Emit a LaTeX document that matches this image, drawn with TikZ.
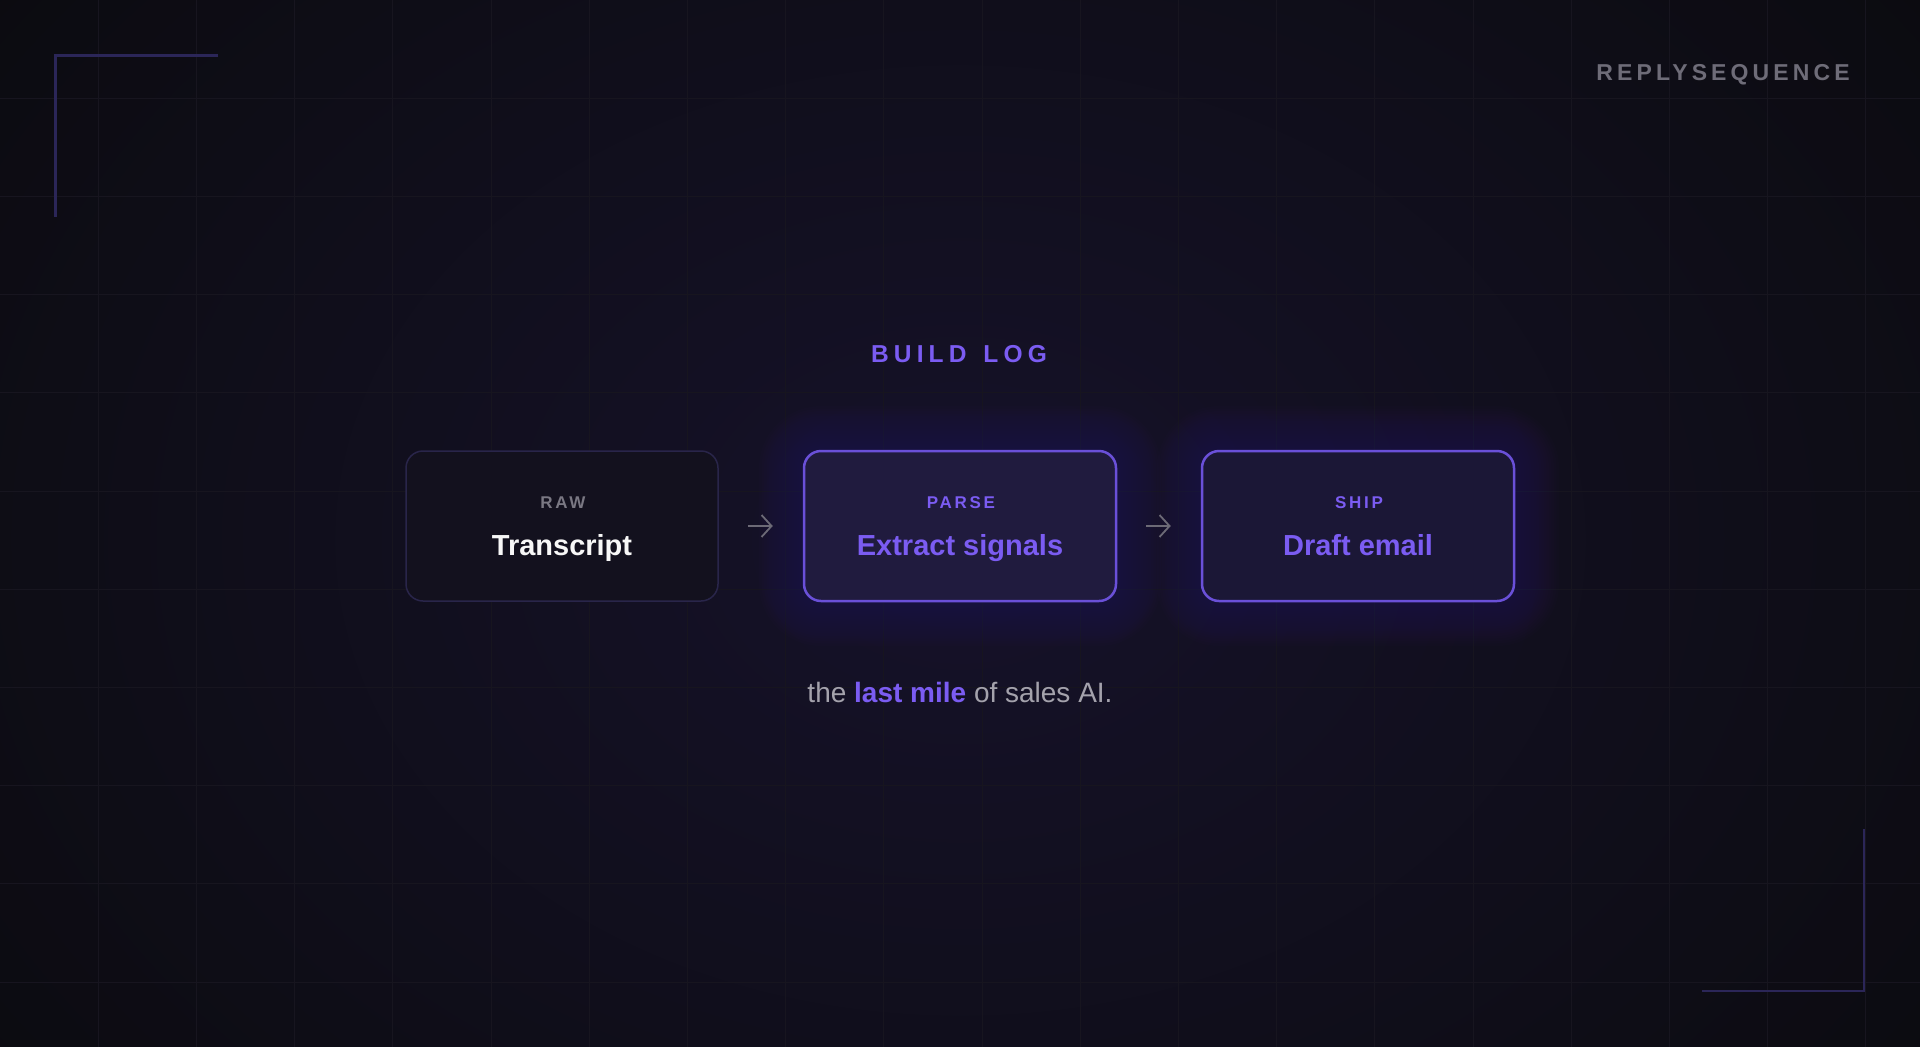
\documentclass[tikz,border=0pt]{standalone}
\usepackage{fontspec}
\setmainfont{Liberation Sans}
\usetikzlibrary{arrows.meta}
\definecolor{bg}{HTML}{0B0B0F}
\definecolor{glowc}{HTML}{16122A}
\definecolor{gridc}{HTML}{17151F}
\definecolor{bracketc}{HTML}{2B2658}
\definecolor{brandc}{HTML}{6E6C78}
\definecolor{accent}{HTML}{7B5CF2}
\definecolor{labgray}{HTML}{7A7883}
\definecolor{tagg}{HTML}{A4A2AC}
\definecolor{boxonefill}{HTML}{13111E}
\definecolor{boxoneline}{HTML}{29254A}
\definecolor{boxtwofill}{HTML}{201B3E}
\definecolor{boxthreefill}{HTML}{1B1736}
\definecolor{boxline}{HTML}{6A50D8}
\definecolor{arrowc}{HTML}{6C6A76}
\tikzset{
  card/.style={rounded corners=17pt, minimum width=312pt, minimum height=150pt, inner sep=0pt},
  tagtext/.style={anchor=base, inner sep=0pt, font=\fontsize{17}{20}\selectfont\bfseries\addfontfeatures{LetterSpace=16}},
  titletext/.style={anchor=base, inner sep=0pt, font=\fontsize{29}{34}\selectfont\bfseries},
  flow/.style={draw=arrowc, line width=1.8pt, -{Straight Barb[length=10pt,width=22pt,line width=1.8pt]}, shorten <=29pt, shorten >=30pt},
  bracket/.style={draw=bracketc, line width=2.5pt},
}
\begin{document}
\begin{tikzpicture}[x=1pt,y=-1pt]
\useasboundingbox (0,0) rectangle (1920,1047);
\clip (0,0) rectangle (1920,1047);
\fill[bg] (0,0) rectangle (1920,1047);
\shade[inner color=glowc, outer color=bg] (960,540) ellipse [x radius=1250pt, y radius=950pt];
% grid
\foreach \i in {1,...,19} \draw[gridc, line width=1pt] (\i*98.2,0) -- (\i*98.2,1047);
\foreach \j in {1,...,10} \draw[gridc, line width=1pt] (0,\j*98.2) -- (1920,\j*98.2);
% corner brackets
\coordinate (tlh) at (218,55.5);
\coordinate (tlc) at (55.5,55.5);
\coordinate (tlv) at (55.5,217);
\draw[bracket] (tlh) -- (tlc) -- (tlv);
\coordinate (brv) at (1864,829);
\coordinate (brc) at (1864,991);
\coordinate (brh) at (1702,991);
\draw[bracket] (brv) -- (brc) -- (brh);
% brand
\node[anchor=base east, inner sep=0pt, text=brandc, font=\fontsize{23}{28}\selectfont\bfseries\addfontfeatures{LetterSpace=18}] (brand) at (1850,80.5) {REPLYSEQUENCE};
% title
\node[anchor=base, inner sep=0pt, text=accent, font=\fontsize{24.5}{28}\selectfont\bfseries\addfontfeatures{LetterSpace=21}] (title) at (959,362) {BUILD\hspace{5pt} LOG};
% glows
\foreach \k in {1,...,18} {
  \fill[boxline, opacity=0.013, rounded corners=17pt+\k*2.5pt] (804-\k*2.5,451-\k*2.5) rectangle (1116+\k*2.5,601+\k*2.5);
  \fill[boxline, opacity=0.011, rounded corners=17pt+\k*2.5pt] (1202-\k*2.5,451-\k*2.5) rectangle (1514+\k*2.5,601+\k*2.5);
}
% cards
\node[card, fill=boxonefill, draw=boxoneline, line width=1.5pt] (b1) at (562,526) {};
\node[card, fill=boxtwofill, draw=boxline, line width=2.5pt] (b2) at (960,526) {};
\node[card, fill=boxthreefill, draw=boxline, line width=2.5pt] (b3) at (1358,526) {};
\node[tagtext, text=labgray] (t1) at (563,508.5) {RAW};
\node[titletext, text=white!94!gray] (n1) at (562,555) {Transcript};
\node[tagtext, text=accent] (t2) at (961,508.5) {PARSE};
\node[titletext, text=accent] (n2) at (960,555) {Extract signals};
\node[tagtext, text=accent] (t3) at (1359,508.5) {SHIP};
\node[titletext, text=accent] (n3) at (1358,555) {Draft email};
% connectors
\draw[flow] (b1.east) -- (b2.west);
\draw[flow] (b2.east) -- (b3.west);
% tagline
\node[anchor=base, inner sep=0pt, font=\fontsize{28}{32}\selectfont, text=tagg] (tag) at (960,702) {the \textcolor{accent}{\bfseries last mile} of sales AI.};
\end{tikzpicture}
\end{document}
